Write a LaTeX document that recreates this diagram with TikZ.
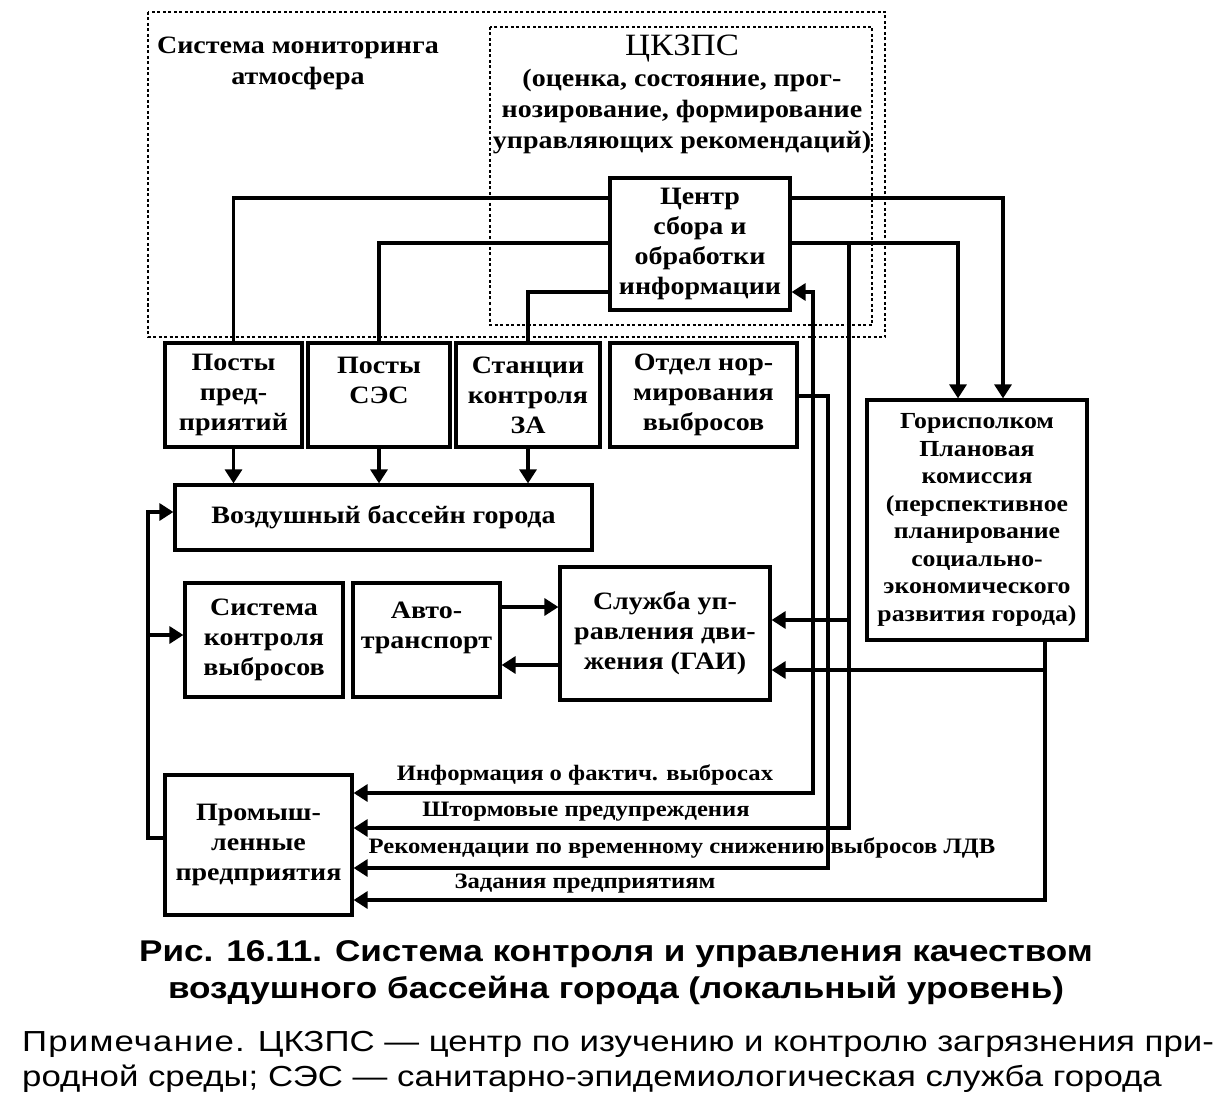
\documentclass[tikz,border=0pt]{standalone}
\usepackage{fontspec}
\setmainfont[FakeStretch=1.12]{Liberation Serif}
\newfontfamily\capfont[FakeStretch=1.17]{Liberation Sans}
\newfontfamily\primfont[FakeStretch=1.2]{Liberation Sans}
\usetikzlibrary{arrows.meta}

\tikzset{
  blok/.style={draw, line width=3.2pt, align=center, inner sep=2pt,
    font=\bfseries\fontsize{25}{30}\selectfont},
  nadpis/.style={align=center, inner sep=0pt, font=\bfseries\fontsize{25}{31}\selectfont},
  metka/.style={inner sep=0pt, font=\bfseries\fontsize{22}{25}\selectfont},
  ramka/.style={line width=1.4pt, dash pattern=on 3pt off 2.5pt},
  svyaz/.style={line width=3.2pt},
  strel/.style={svyaz, -{Triangle[length=14pt,width=17pt]}},
  dvestrel/.style={svyaz, {Triangle[length=14pt,width=17pt]}-{Triangle[length=14pt,width=17pt]}}
}

\begin{document}
\begin{tikzpicture}[x=1pt,y=-1pt]
  \useasboundingbox (0,0) rectangle (1231,1107);

  % monitoring frames
  \draw[ramka] (148,12) rectangle (885,337);
  \draw[ramka] (490,27) rectangle (872,325);
  \node[nadpis] (monit) at (298,63) {Система мониторинга\\атмосфера};
  \node[nadpis] (ckzps) at (682,94) {{\mdseries\fontsize{31}{31}\selectfont ЦКЗПС}\\(оценка, состояние, прог-\\нозирование, формирование\\управляющих рекомендаций)};

  % boxes
  \node[blok, minimum width=180, minimum height=132] (centr) at (700,244) {Центр\\сбора и\\обработки\\информации};
  \node[blok, minimum width=137, minimum height=104] (pp) at (233.5,395) {Посты\\пред-\\приятий};
  \node[blok, minimum width=142, minimum height=104] (ses) at (379,395) {Посты\\СЭС\\~};
  \node[blok, minimum width=144, minimum height=104] (stan) at (528,395) {Станции\\контроля\\ЗА};
  \node[blok, minimum width=187, minimum height=104] (otdel) at (703.5,395) {Отдел нор-\\мирования\\выбросов};
  \node[blok, minimum width=220, minimum height=240, font=\bfseries\fontsize{23}{27.5}\selectfont] (gor) at (977,520)
    {Горисполком\\Плановая\\комиссия\\(перспективное\\планирование\\социально-\\экономического\\развития города)};
  \node[blok, minimum width=417, minimum height=65] (bass) at (383.5,517.5) {Воздушный бассейн города};
  \node[blok, minimum width=158, minimum height=114] (skv) at (264,640) {Система\\контроля\\выбросов};
  \node[blok, minimum width=147, minimum height=114] (avto) at (426.5,640) {Авто-\\транспорт\\~};
  \node[blok, minimum width=210, minimum height=133] (sluzh) at (665,633.5) {Служба уп-\\равления дви-\\жения (ГАИ)};
  \node[blok, minimum width=187, minimum height=140] (prom) at (258.5,845) {Промыш-\\ленные\\предприятия};

  % free points of the connectors
  \coordinate (shtorm) at (849,243);
  \coordinate (fakt) at (813,292);
  \coordinate (rekom) at (828,868);
  \coordinate (gorvyh) at ([xshift=68pt]gor.south);
  \coordinate (petlya) at (148,512);

  % posts and the center
  \draw[svyaz] (centr.west |- 0,198) -| (pp.north);
  \draw[svyaz] (centr.west |- 0,243) -| (ses.north);
  \draw[svyaz] (centr.west |- 0,292) -| (stan.north);
  \draw[strel] (pp.south) -- (pp.south |- bass.north);
  \draw[strel] (ses.south) -- (ses.south |- bass.north);
  \draw[strel] (stan.south) -- (stan.south |- bass.north);

  % center to the city council
  \draw[strel] (centr.east |- 0,198) -| ([xshift=26pt]gor.north);
  \draw[strel] (centr.east |- 0,243) -| ([xshift=-19pt]gor.north);

  % lines down to the enterprises
  \draw[strel] (shtorm) |- (prom.east |- 0,828);
  \draw[strel] (shtorm |- 0,620) -- (sluzh.east |- 0,620);
  \draw[dvestrel] (prom.east |- 0,793) -| (fakt) -- (centr.east |- fakt);
  \draw[strel] (otdel.east |- 0,396) -| (rekom) -- (prom.east |- rekom);
  \draw[strel] (gorvyh) |- (prom.east |- 0,900);
  \draw[strel] (gorvyh |- 0,670) -- (sluzh.east |- 0,670);

  % transport
  \draw[strel] (avto.east |- 0,607) -- (sluzh.west |- 0,607);
  \draw[strel] (sluzh.west |- 0,665) -- (avto.east |- 0,665);

  % loop on the left
  \draw[strel] (prom.west |- 0,838) -| (petlya) -- (bass.west |- petlya);
  \draw[strel] (petlya |- 0,635) -- (skv.west |- 0,635);

  % labels of the lines
  \node[metka] (l1) at (585,775) {Информация о фактич. выбросах};
  \node[metka] (l2) at (586,812) {Штормовые предупреждения};
  \node[metka] (l3) at (682,848) {Рекомендации по временному снижению выбросов ЛДВ};
  \node[metka] (l4) at (585,884) {Задания предприятиям};

  % caption
  \node[align=center, inner sep=0pt, font=\capfont\bfseries\fontsize{30}{37}\selectfont] (podpis) at (616,973)
    {Рис. 16.11. Система контроля и управления качеством\\воздушного бассейна города (локальный уровень)};
  \node[anchor=west, align=left, inner sep=0pt, font=\primfont\fontsize{29}{35}\selectfont] (primech) at (22,1062)
    {{\addfontfeatures{LetterSpace=4}Примечание.} ЦКЗПС — центр по изучению и контролю загрязнения при-\\родной среды; СЭС — санитарно-эпидемиологическая служба города};
\end{tikzpicture}
\end{document}
